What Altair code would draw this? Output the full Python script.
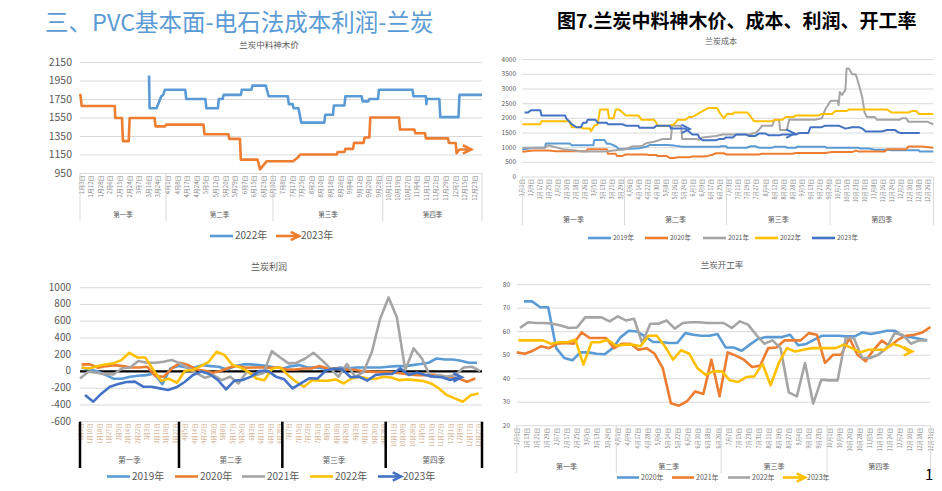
import altair as alt
import pandas as pd

FONT = "Noto Sans CJK SC"
M = 8  # page margin


def px(v):
    return v - M


C19, C20, C21, C22, C23 = "#5B9BD5", "#ED7D31", "#A5A5A5", "#FFC000", "#4472C4"
GRID = "#D9D9D9"
TXT = "#595959"

# ---------------- Panel 1: 兰炭中料神木价 (x = label slot) ----------------
p1_labels = ["1月3日", "1月12日", "1月28日", "2月6日", "2月15日", "2月24日", "3月7日", "3月16日", "3月24日",
             "4月1日", "4月8日", "4月17日", "4月24日", "5月5日", "5月12日", "5月20日", "5月29日", "6月7日",
             "6月15日", "6月23日", "6月30日", "7月8日", "7月17日", "7月25日", "8月2日", "8月10日", "8月18日",
             "8月26日", "9月4日", "9月12日", "9月20日", "9月28日", "10月11日", "10月19日", "10月27日", "11月4日",
             "11月13日", "11月21日", "11月29日", "12月7日", "12月15日", "12月23日"]
p1_x_2022 = [7.02, 7.08, 7.8, 8.3, 8.5, 8.68, 10.8, 10.9, 12.9, 13.0, 14.2, 14.3, 14.7, 14.8, 16.6, 16.7,
             17.7, 17.8, 19.2, 19.5, 21.5, 21.6, 22.0, 22.1, 22.6, 22.9, 25.3, 25.4, 26.2, 26.3, 27.4, 27.5,
             29.2, 29.3, 29.9, 30.0, 30.9, 31.0, 34.5, 34.6, 35.9, 35.95, 36.0, 37.3, 37.4, 39.3, 39.4, 41.75]
p1_y_2022 = [2010, 1655, 1655, 1785, 1800, 1855, 1855, 1755, 1755, 1655, 1655, 1755, 1755, 1800, 1800, 1855,
             1855, 1900, 1900, 1785, 1785, 1700, 1700, 1655, 1655, 1500, 1500, 1585, 1585, 1685, 1685, 1785,
             1785, 1730, 1730, 1755, 1755, 1855, 1855, 1785, 1785, 1700, 1755, 1755, 1560, 1560, 1800, 1800]
p1_x_2023 = [-0.15, 0.0, 3.45, 3.5, 4.2, 4.3, 4.9, 5.0, 7.6, 7.7, 8.7, 8.8, 12.7, 12.8, 15.3, 15.4, 16.5,
             16.6, 18.35, 18.6, 19.3, 22.05, 22.5, 22.8, 26.6, 26.7, 27.4, 27.5, 28.3, 28.4, 29.4, 29.5, 30.0,
             30.1, 33.1, 33.2, 34.7, 34.8, 35.8, 35.9, 38.2, 38.3, 39.0, 39.1, 39.4, 40.3]
p1_y_2023 = [1810, 1680, 1680, 1550, 1550, 1300, 1300, 1550, 1550, 1460, 1460, 1478, 1478, 1375, 1375, 1324,
             1324, 1100, 1100, 995, 1083, 1083, 1120, 1155, 1155, 1183, 1183, 1216, 1216, 1281, 1281, 1340,
             1340, 1555, 1555, 1425, 1425, 1385, 1385, 1330, 1330, 1280, 1280, 1170, 1210, 1210]

# ---------------- Panel 2: 兰炭成本 (x = day of year, labels every 8 days) ----------------
p2_labels = ["1月1日", "1月9日", "1月17日", "1月25日", "2月2日", "2月10日", "2月18日", "2月26日", "3月5日",
             "3月13日", "3月21日", "3月29日", "4月6日", "4月14日", "4月22日", "4月30日", "5月8日", "5月16日",
             "5月24日", "6月1日", "6月9日", "6月17日", "6月25日", "7月3日", "7月11日", "7月19日", "7月27日",
             "8月4日", "8月12日", "8月20日", "8月28日", "9月5日", "9月13日", "9月21日", "9月29日", "10月7日",
             "10月15日", "10月23日", "10月31日", "11月8日", "11月16日", "11月24日", "12月2日", "12月10日",
             "12月18日", "12月26日"]
p2_d_2019 = [1, 11, 21, 22, 43, 45, 64, 65, 74, 76, 79, 84, 87, 105, 111, 114, 129, 136, 143, 176, 177, 182,
             183, 200, 204, 208, 211, 223, 225, 235, 236, 244, 245, 270, 271, 300, 301, 309, 314, 325, 329, 353,
             354, 366]
p2_v_2019 = [940, 1000, 1000, 1140, 1140, 1080, 1080, 1260, 1260, 1130, 1130, 1050, 950, 980, 1030, 1090, 1090,
             1070, 1030, 1030, 1050, 1050, 1000, 1000, 1050, 1050, 1000, 1000, 1030, 1030, 1000, 1000, 1030,
             1030, 1000, 1000, 970, 970, 930, 930, 910, 910, 870, 870]
p2_d_2020 = [1, 11, 24, 31, 58, 59, 76, 77, 84, 85, 90, 93, 111, 114, 120, 121, 129, 132, 136, 139, 149, 152,
             161, 166, 170, 173, 180, 182, 211, 214, 241, 244, 270, 276, 294, 297, 300, 323, 325, 342, 344, 356,
             366]
p2_v_2020 = [860, 900, 900, 880, 880, 950, 950, 790, 790, 720, 720, 770, 770, 750, 750, 720, 720, 650, 650, 670,
             670, 700, 700, 720, 760, 810, 810, 770, 770, 790, 790, 820, 820, 850, 850, 900, 870, 870, 950, 950,
             1040, 1040, 1000]
p2_d_2021 = [1, 21, 24, 37, 49, 53, 74, 82, 93, 99, 107, 111, 118, 126, 133, 134, 142, 143, 155, 158, 161, 173,
             179, 202, 208, 211, 214, 223, 225, 229, 230, 236, 238, 261, 267, 270, 275, 281, 282, 283, 285, 288,
             289, 291, 294, 297, 298, 301, 303, 305, 307, 314, 316, 336, 338, 342, 344, 361, 366]
p2_v_2021 = [1000, 1000, 1080, 950, 900, 870, 870, 900, 950, 1050, 1050, 1150, 1200, 1300, 1300, 1750, 1750,
             1300, 1300, 1270, 1350, 1400, 1450, 1450, 1500, 1600, 1750, 1750, 1950, 1950, 1600, 1600, 1950,
             1950, 2000, 2300, 2600, 2600, 2450, 2900, 2800, 2970, 3700, 3700, 3500, 3500, 3400, 3000, 2700,
             2200, 2050, 2050, 1950, 1950, 2000, 2000, 1880, 1880, 1800]
p2_d_2022 = [1, 17, 18, 43, 45, 53, 55, 61, 62, 65, 68, 70, 77, 78, 82, 84, 87, 90, 93, 104, 107, 118, 120, 121,
             132, 136, 139, 146, 149, 152, 157, 161, 166, 174, 177, 180, 183, 188, 189, 201, 204, 207, 223, 225,
             232, 235, 242, 244, 264, 267, 276, 279, 289, 291, 325, 329, 344, 347, 351, 353, 366]
p2_v_2022 = [1800, 1800, 1900, 1900, 1700, 1700, 1650, 1650, 1560, 1750, 1800, 2300, 2300, 2000, 2000, 2300,
             2300, 2200, 2100, 2100, 1950, 1950, 1850, 1750, 1750, 1800, 1950, 1950, 2050, 2050, 2150, 2250,
             2350, 2350, 2150, 2000, 2150, 2150, 2200, 2200, 2050, 1900, 1900, 1950, 1950, 2050, 2050, 2100,
             2100, 2150, 2150, 2250, 2250, 2300, 2300, 2200, 2200, 2250, 2250, 2150, 2150]
p2_d_2023 = [3, 6, 9, 17, 18, 39, 40, 45, 49, 53, 55, 58, 59, 66, 68, 76, 77, 90, 93, 104, 105, 118, 120, 132,
             133, 146, 152, 157, 158, 161, 173, 176, 180, 182, 188, 191, 200, 202, 208, 211, 217, 220, 229, 232,
             244, 247, 255, 257, 267, 270, 282, 288, 294, 300, 303, 306, 320, 325, 332, 335, 338, 354]
p2_v_2023 = [2200, 2200, 2280, 2280, 2100, 2100, 2000, 1800, 1700, 1700, 1850, 1850, 1950, 1950, 1850, 1850,
             1800, 1800, 1750, 1750, 1680, 1680, 1750, 1750, 1650, 1650, 1450, 1450, 1350, 1250, 1250, 1300,
             1300, 1350, 1350, 1450, 1450, 1400, 1400, 1480, 1480, 1420, 1420, 1450, 1450, 1500, 1500, 1700,
             1700, 1750, 1750, 1650, 1700, 1700, 1650, 1550, 1550, 1600, 1600, 1520, 1500, 1500]
p2_arrow_d = [147, 240]
p2_arrow_v = [1640, 1480]

# ---------------- Panel 3: 兰炭利润 (weekly points) ----------------
p3_labels = ["1月3日", "1月10日", "1月18日", "1月27日", "2月5日", "2月14日", "2月22日", "3月3日", "3月11日",
             "3月19日", "3月27日", "4月5日", "4月14日", "4月22日", "4月30日", "5月8日", "5月17日", "5月26日",
             "6月3日", "6月11日", "6月19日", "6月28日", "7月7日", "7月15日", "7月23日", "7月31日", "8月9日",
             "8月18日", "8月26日", "9月3日", "9月11日", "9月20日", "9月28日", "10月11日", "10月20日",
             "10月28日", "11月5日", "11月13日", "11月22日", "12月1日", "12月9日", "12月17日", "12月27日"]
p3_2019 = [48, 24, 0, -44, -88, -88, -64, -52, -44, -24, -151, 36, 64, 48, 48, 76, 64, 56, 24, 64, 84, 84, 76,
           64, 48, 36, 64, 76, 48, 48, 36, 24, 48, 36, 48, 48, 48, 48, 56, 64, 64, 76, 88, 104, 155, 143, 143,
           127, 104, 104]
p3_2020 = [84, 84, 44, 64, 76, 64, 48, 48, 56, -56, -64, 36, 104, 76, 24, 8, -16, 8, 48, 64, 44, 48, 48, 44,
           48, 24, 24, 36, 36, 64, 36, 36, 24, 24, 8, 0, -8, -4, -12, -24, -36, -44, -44, -40, -56, -72, -84,
           -123, -84]
p3_2021 = [-84, -4, -16, -32, -36, 36, 48, 124, 104, 104, 116, 136, 96, 36, -24, -76, -44, -104, -64, -143, -4,
           -44, -20, 243, 167, 96, 104, 155, 223, 135, 36, -64, 88, -64, -4, 235, 633, 884, 645, 16, 275, 155,
           -64, -44, -64, -44, 48, 56, 4]
p3_2022 = [48, 36, 64, 84, 96, 135, 223, 167, 167, 24, -111, -88, -135, 8, 16, 64, 115, 235, 195, 76, 48, -4,
           -84, -104, 36, 48, -44, -123, -183, -104, -111, -111, -96, -143, -84, -64, -84, -90, -64, -72, -104,
           -96, -104, -115, -143, -203, -283, -322, -362, -283, -263]
p3_2023 = [-281, -361, -262, -182, -150, -126, -122, -182, -182, -202, -222, -190, -126, -42, -2, -30, -102,
           -214, -110, -102, -62, 4, 8, -62, -94, -202, -142, -82, -86, 8, 36, 24, -70, -62, -110, -42, -30,
           -30, 36, -42, -14, -42, -62, -70, -102, -70]
p3_span = {"2019年": (0.2, 47.4), "2020年": (0.2, 47.2), "2021年": (0.0, 47.8), "2022年": (0.2, 47.6),
           "2023年": (0.6, 45.2)}

# ---------------- Panel 4: 兰炭开工率 (weekly points) ----------------
p4_labels = ["1月1日", "1月13日", "1月21日", "1月29日", "2月7日", "2月17日", "2月25日", "3月5日", "3月13日",
             "3月24日", "4月1日", "4月9日", "4月17日", "4月28日", "5月6日", "5月14日", "5月22日", "6月2日",
             "6月10日", "6月18日", "6月26日", "7月7日", "7月15日", "7月23日", "7月31日", "8月11日", "8月19日",
             "8月27日", "9月4日", "9月15日", "9月23日", "10月1日", "10月9日", "10月20日", "10月28日", "11月5日",
             "11月13日", "11月24日", "12月2日", "12月10日", "12月18日", "12月31日"]
p4_2020 = [72.9, 72.9, 70.4, 70.4, 53.0, 48.8, 47.8, 51.2, 51.2, 50.6, 50.4, 53.0, 57.7, 60.4, 60.1, 58.0,
           55.6, 55.6, 55.2, 55.2, 59.4, 58.7, 58.3, 58.3, 59.0, 53.3, 53.3, 51.9, 54.5, 56.9, 57.7, 57.7, 57.7,
           58.7, 54.2, 54.8, 56.6, 58.3, 58.3, 58.3, 58.0, 58.0, 59.7, 59.0, 59.7, 60.4, 60.4, 58.0, 57.7, 57.0,
           56.3]
p4_2021 = [51.2, 50.6, 51.9, 53.8, 53.0, 54.9, 55.2, 54.9, 59.7, 57.3, 57.3, 57.3, 53.0, 54.9, 54.9, 52.3,
           53.0, 50.6, 44.5, 29.6, 28.5, 30.4, 34.6, 33.5, 48.1, 32.5, 51.2, 49.8, 48.1, 45.0, 45.5, 53.0, 53.3,
           56.3, 56.3, 56.3, 59.4, 58.7, 46.7, 50.2, 50.2, 57.3, 50.2, 47.4, 52.3, 56.2, 53.8, 56.6, 58.3, 58.7,
           59.7, 62.0]
p4_2022 = [61.6, 64.0, 63.7, 63.7, 63.4, 62.6, 61.6, 61.8, 66.1, 66.1, 66.1, 64.4, 66.5, 64.8, 65.5, 55.2,
           63.4, 63.4, 64.8, 61.3, 63.7, 64.0, 64.0, 63.7, 63.7, 63.7, 61.6, 64.4, 63.0, 58.7, 54.9, 56.3, 53.0,
           34.2, 32.5, 46.7, 29.4, 39.6, 39.3, 39.3, 57.3, 57.3, 48.8, 48.8, 50.2, 53.0, 59.4, 58.7, 54.9, 56.3,
           56.3]
p4_2023 = [56.3, 56.3, 56.3, 56.3, 54.9, 55.5, 55.5, 56.6, 46.0, 55.5, 55.5, 56.6, 54.0, 54.5, 54.5, 53.8,
           58.3, 58.3, 53.8, 48.1, 52.1, 50.6, 44.5, 41.7, 43.1, 43.1, 39.3, 38.6, 40.7, 41.0, 46.4, 37.2, 46.7,
           53.0, 51.6, 52.3, 53.0, 53.0, 53.0, 53.0, 54.5, 53.0, 51.2, 52.3, 52.3, 52.3, 54.8, 53.8, 51.6]
p4_span = {"2020年": (0.88, 49.6), "2021年": (0.0, 50.0), "2022年": (0.4, 49.6), "2023年": (0.2, 47.4)}

QUARTERS = ["第一季", "第二季", "第三季", "第四季"]
ARROW_HEAD = "M-1,-0.8L0.6,0L-1,0.8"


def spread(vals, span):
    a, b = span
    n = len(vals)
    return [a + (b - a) * i / (n - 1) for i in range(n)]


def build_panel(key, names, colors, xs, ys, xdom, xr, ydom, yr, yticks, ylab_right, ylab_size,
                xlabels, xlabel_pos, xlab_top, xlab_size, xlab_color, qedges, qlab_y, qlab_size,
                sep_bot, sep_color, sep_width, title, title_xy, title_size, lw, arrows, zero_line=False):
    dom = [f"{key}|{n}" for n in names]
    xsc = alt.Scale(domain=xdom, range=[px(xr[0]), px(xr[1])], zero=False, nice=False)
    ysc = alt.Scale(domain=ydom, range=[px(yr[0]), px(yr[1])], zero=False, nice=False)
    csc = alt.Scale(domain=dom, range=colors)

    rows = []
    for d, xv, yv in zip(dom, xs, ys):
        for i, (a, b) in enumerate(zip(xv, yv)):
            rows.append({"s": d, "x": a, "y": b, "i": i})
    df = pd.DataFrame(rows)

    gdf = pd.DataFrame({"v": yticks, "lab": [str(t) for t in yticks],
                        "x0": [xdom[0]] * len(yticks), "x1": [xdom[1]] * len(yticks)})
    X = lambda f: alt.X(f, scale=xsc, axis=None)
    Y = lambda f: alt.Y(f, scale=ysc, axis=None)

    grid = alt.Chart(gdf).mark_rule(color=GRID, strokeWidth=1).encode(x=X("x0:Q"), x2="x1:Q", y=Y("v:Q"))
    ylab = alt.Chart(gdf).mark_text(align="right", baseline="middle", font=FONT, fontSize=ylab_size,
                                    color=TXT).encode(x=alt.value(px(ylab_right)), y=Y("v:Q"), text="lab:N")
    xdf = pd.DataFrame({"p": xlabel_pos, "lab": xlabels})
    xlab = alt.Chart(xdf).mark_text(angle=270, align="right", baseline="middle", font=FONT,
                                    fontSize=xlab_size, color=xlab_color).encode(
        x=X("p:Q"), y=alt.value(px(xlab_top)), text="lab:N")
    sdf = pd.DataFrame({"p": qedges})
    seps = alt.Chart(sdf).mark_rule(color=sep_color, strokeWidth=sep_width).encode(
        x=X("p:Q"), y=alt.value(px(yr[0])), y2=alt.value(px(sep_bot)))
    qdf = pd.DataFrame({"m": [(qedges[i] + qedges[i + 1]) / 2 for i in range(4)], "lab": QUARTERS})
    qlab = alt.Chart(qdf).mark_text(baseline="middle", font=FONT, fontSize=qlab_size, color=TXT).encode(
        x=X("m:Q"), y=alt.value(px(qlab_y)), text="lab:N")
    ttl = alt.Chart(pd.DataFrame({"t": [title]})).mark_text(font=FONT, fontSize=title_size, color=TXT,
                                                            baseline="middle").encode(
        x=alt.value(px(title_xy[0])), y=alt.value(px(title_xy[1])), text="t:N")

    layers = [grid]
    if zero_line:
        zdf = pd.DataFrame({"v": [0], "x0": [xdom[0]], "x1": [xdom[1]]})
        layers.append(alt.Chart(zdf).mark_rule(color="black", strokeWidth=2.2).encode(
            x=X("x0:Q"), x2="x1:Q", y=Y("v:Q")))
    lines = alt.Chart(df).mark_line(strokeWidth=lw, strokeJoin="round").encode(
        x=X("x:Q"), y=Y("y:Q"), color=alt.Color("s:N", scale=csc, legend=None), order="i:Q")
    layers += [ylab, xlab, seps, qlab, lines, ttl]
    if arrows:
        adf = pd.DataFrame([{"s": dom[-1], "x": a, "y": b} for a, b in arrows])
        layers.append(alt.Chart(adf).mark_point(shape=ARROW_HEAD, filled=False, strokeWidth=lw, size=110,
                                                opacity=1).encode(
            x=X("x:Q"), y=Y("y:Q"), color=alt.Color("s:N", scale=csc, legend=None)))
    return alt.layer(*layers)


# ---- Panel 1
p1 = build_panel(
    "a", ["2022年", "2023年"], [C19, C20], [p1_x_2022, p1_x_2023], [p1_y_2022, p1_y_2023],
    [-0.18, 41.75], (80, 482), [950, 2150], (173.5, 62.5), list(range(950, 2151, 200)), 72, 10.5,
    p1_labels, list(range(len(p1_labels))), 175.5, 6, "#7F7F7F", [-0.18, 8.79, 19.95, 31.4, 41.75], 215, 6.5,
    221, GRID, 1, "兰炭中料神木价", (269, 44.5), 8.5, 2.6, [(p1_x_2023[-1], p1_y_2023[-1])])

# ---- Panel 2
p2_names = ["2019年", "2020年", "2021年", "2022年", "2023年"]
p2_d = [p2_d_2019, p2_d_2020, p2_d_2021, p2_d_2022, p2_d_2023]
p2_v = [p2_v_2019, p2_v_2020, p2_v_2021, p2_v_2022, p2_v_2023]
p2_x = [[(d - 1) / 8 for d in dl] for dl in p2_d]
p2 = build_panel(
    "b", p2_names, [C19, C20, C21, C22, C23], p2_x, p2_v,
    [0, 45.65], (522.3, 933.5), [0, 4000], (177, 59.7), list(range(0, 4001, 500)), 516, 6.5,
    p2_labels, list(range(len(p2_labels))), 179, 5.6, "#7F7F7F", [0, 11.35, 22.67, 34.17, 45.65], 220, 7,
    225, GRID, 1, "兰炭成本", (721, 41.5), 8, 2.0,
    [((d - 1) / 8, v) for d, v in zip(p2_arrow_d, p2_arrow_v)])

# ---- Panel 3
p3_names = ["2019年", "2020年", "2021年", "2022年", "2023年"]
p3_vals = [p3_2019, p3_2020, p3_2021, p3_2022, p3_2023]
p3_x = [spread(v, p3_span[n]) for n, v in zip(p3_names, p3_vals)]
p3_lab_pos = [(0.7 + 9.49 * i) / 8.375 for i in range(len(p3_labels))]
p3 = build_panel(
    "c", p3_names, [C19, C20, C21, C22, C23], p3_x, p3_vals,
    [0, 48], (80, 482), [-600, 1000], (421.7, 287.7), list(range(-600, 1001, 200)), 71, 10,
    p3_labels, p3_lab_pos, 423.5, 5.5, "#C9A27C", [0, 11.82, 24.16, 36.5, 48], 461, 7.5,
    468, "black", 2.5, "兰炭利润", (269, 266.5), 9, 2.6, [(p3_x[-1][-1], p3_vals[-1][-1])], zero_line=True)

# ---- Panel 4
p4_names = ["2020年", "2021年", "2022年", "2023年"]
p4_vals = [p4_2020, p4_2021, p4_2022, p4_2023]
p4_x = [spread(v, p4_span[n]) for n, v in zip(p4_names, p4_vals)]
p4_lab_pos = [50 * i / (len(p4_labels) - 1) for i in range(len(p4_labels))]
p4 = build_panel(
    "d", p4_names, [C19, C20, C21, C22], p4_x, p4_vals,
    [0, 50], (516.7, 930.5), [20, 80], (425.7, 284.7), list(range(20, 81, 10)), 510, 6.5,
    p4_labels, p4_lab_pos, 428, 5.6, "#7F7F7F", [0, 12.04, 24.7, 37.5, 50], 467, 7,
    473, GRID, 1, "兰炭开工率", (722, 265), 8.5, 2.6, [(p4_x[-1][-1], p4_vals[-1][-1])])

# ---- Legends (drawn as marks; layout positions in page pixels)
legend_specs = [
    # names, colors, symbol starts, symbol length, centre y, font size, last entry is an arrow
    (["2022年", "2023年"], [C19, C20], [210, 276], 23, 236, 10, True),
    (p2_names, [C19, C20, C21, C22, C23], [588, 645, 703, 755, 812], 23, 238, 6.5, False),
    (p3_names, [C19, C20, C21, C22, C23], [107, 175, 242, 310, 378], 23, 476.5, 10, True),
    (p4_names, [C19, C20, C21, C22], [617, 672, 728, 783], 22, 477.5, 7, True),
]
lrows = []
for names, cols, starts, ln, cy, fs, arr in legend_specs:
    for k, (n, c, s) in enumerate(zip(names, cols, starts)):
        lrows.append({"x0": px(s), "x1": px(s + ln), "y": px(cy), "c": c, "lab": n, "lx": px(s + ln + 2),
                      "fs": fs, "arrow": bool(arr and k == len(names) - 1), "ax": px(s + ln - 3)})
ldf = pd.DataFrame(lrows)
leg_sym = alt.Chart(ldf).mark_rule(strokeWidth=2.6).encode(
    x=alt.X("x0:Q", scale=None, axis=None), x2="x1:Q", y=alt.Y("y:Q", scale=None, axis=None),
    color=alt.Color("c:N", scale=None, legend=None))
leg_arr = alt.Chart(ldf[ldf["arrow"]]).mark_point(shape=ARROW_HEAD, filled=False, strokeWidth=2.6,
                                                  size=110, opacity=1).encode(
    x=alt.X("ax:Q", scale=None, axis=None), y=alt.Y("y:Q", scale=None, axis=None),
    color=alt.Color("c:N", scale=None, legend=None))
leg_txt = alt.Chart(ldf).mark_text(align="left", baseline="middle", font=FONT, color=TXT).encode(
    x=alt.X("lx:Q", scale=None, axis=None), y=alt.Y("y:Q", scale=None, axis=None),
    size=alt.Size("fs:Q", scale=None, legend=None), text="lab:N")
legends = alt.layer(leg_sym, leg_arr, leg_txt)

# ---- Header texts
hdr1 = alt.Chart(pd.DataFrame({"t": ["三、PVC基本面-电石法成本利润-兰炭"]})).mark_text(
    font=FONT, fontSize=23.5, color="#5B9BD5", align="left", baseline="middle").encode(
    x=alt.value(px(45)), y=alt.value(px(23.5)), text="t:N")
hdr2 = alt.Chart(pd.DataFrame({"t": ["图7.兰炭中料神木价、成本、利润、开工率"]})).mark_text(
    font=FONT, fontSize=19, fontWeight="bold", color="black", align="left", baseline="middle").encode(
    x=alt.value(px(557)), y=alt.value(px(21.5)), text="t:N")
pg = alt.Chart(pd.DataFrame({"t": ["1"]})).mark_text(
    font=FONT, fontSize=15, color="black", align="left", baseline="middle").encode(
    x=alt.value(px(925)), y=alt.value(px(475)), text="t:N")

chart = alt.layer(p1, p2, p3, p4, legends, hdr1, hdr2, pg).resolve_scale(
    x="independent", y="independent", color="independent", size="independent"
).properties(
    width=926, height=475, autosize=alt.AutoSizeParams(type="none"), padding=0
).configure_view(stroke=None)

chart.save("out.html", embed_options={"renderer": "svg", "actions": False})
